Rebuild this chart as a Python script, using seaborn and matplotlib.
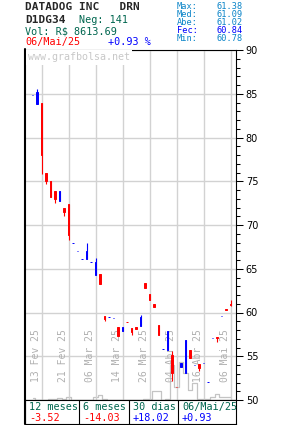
import numpy as np
import seaborn as sns
import matplotlib.pyplot as plt
from matplotlib.ticker import MultipleLocator, FixedLocator
import matplotlib.transforms as mtransforms

# D1DG34 daily candles (45 sessions up to 06/Mai/25)
opens = [84.82, 83.86, 83.94, 75.98, 75.03, 73.89, 72.78, 71.94, 72.40, 67.94,
         67.03, 66.08, 66.08, 65.77, 64.32, 64.40, 59.63, 59.45, 59.37, 58.38,
         57.85, 58.93, 58.19, 58.34, 58.42, 63.41, 62.15, 61.01, 58.52, 55.79,
         55.77, 55.14, 51.54, 53.81, 53.09, 55.71, 54.00, 54.11, 54.23, 52.06,
         57.09, 57.20, 59.60, 60.45, 61.02]
highs = [84.82, 85.54, 83.94, 75.98, 75.03, 73.89, 73.89, 71.94, 72.40, 67.94,
         67.03, 66.08, 67.94, 65.77, 66.19, 64.40, 59.63, 59.45, 59.37, 58.38,
         58.34, 58.93, 58.19, 58.34, 59.75, 63.41, 62.15, 61.01, 58.52, 55.79,
         57.89, 55.60, 51.54, 54.23, 56.86, 55.71, 54.00, 54.11, 54.23, 52.06,
         57.09, 57.20, 59.60, 60.45, 61.38]
lows = [84.82, 83.86, 75.86, 74.65, 73.20, 72.48, 72.78, 71.03, 68.29, 67.94,
        67.03, 66.08, 66.08, 65.77, 64.32, 63.26, 59.06, 59.45, 59.37, 57.35,
        57.85, 58.91, 57.43, 58.15, 58.42, 62.80, 61.47, 60.67, 57.46, 55.79,
        55.77, 52.14, 51.52, 53.81, 53.09, 54.80, 54.00, 53.31, 54.23, 52.06,
        57.09, 56.63, 59.60, 60.28, 60.78]
closes = [84.82, 85.20, 78.03, 75.03, 73.20, 73.00, 73.89, 71.52, 68.86, 67.94,
          67.03, 66.08, 67.03, 65.77, 65.77, 63.26, 59.29, 59.45, 59.37, 57.35,
          58.34, 58.91, 57.81, 58.15, 59.49, 62.80, 61.47, 60.67, 57.46, 55.79,
          57.89, 53.14, 51.52, 54.23, 56.86, 54.80, 54.00, 53.66, 54.23, 52.06,
          57.09, 57.05, 59.60, 60.28, 60.84]
# financial volume, R$ thousands
volumes = [4.4, 0, 0, 1.3, 2.6, 2.6, 5.2, 3.9, 9.1, 1.3,
           1.3, 1.3, 1.3, 1.3, 9.1, 13.8, 2.6, 1.3, 1.3, 1.3,
           1.3, 1.3, 1.3, 1.3, 1.3, 3.9, 3.9, 24.7, 24.7, 1.3,
           3.9, 91.0, 33.8, 98.8, 70.2, 26.0, 44.2, 2.6, 2.6, 2.6,
           7.8, 16.9, 7.8, 8.6, 8.6]

date_pos = [2, 8, 14, 20, 26, 32, 38, 44]
date_labels = ["13 Fev 25", "21 Fev 25", "06 Mar 25", "14 Mar 25",
               "26 Mar 25", "04 Abr 25", "16 Abr 25", "06 Mai 25"]

period_labels = ["12 meses", "6 meses", "30 dias", "06/Mai/25"]
period_values = [-3.52, -14.03, 18.02, 0.93]

UP, DOWN = "#0000ff", "#ff0000"
TEAL, LBLUE = "#00664f", "#0a84c8"
GRID = "#d2d2d2"
MONO = "DejaVu Sans Mono"

sns.set_style("white")
plt.rcParams["font.family"] = ["DejaVu Sans"]

W, H = 285, 425
fig = plt.figure(figsize=(W / 100, H / 100), dpi=100)


def px(x, y):
    return x / W, 1 - y / H


rect = [25 / W, 25 / H, 211 / W, 350 / H]
x = np.arange(len(closes))

# volume in the background
ax_vol = fig.add_axes(rect)
sns.lineplot(x=x, y=volumes, ax=ax_vol, drawstyle="steps-mid",
             color="#c4c4c4", lw=0.9)
ax_vol.set_ylim(0, max(volumes) * 350 / 38)
ax_vol.set_axis_off()

# price axes on top
ax = fig.add_axes(rect, sharex=ax_vol)
ax.patch.set_alpha(0)
ax.set_xlim(-1.67, 45.22)
ax.set_ylim(50, 90)

o, c = np.array(opens), np.array(closes)
colors = [UP if cc >= oo else DOWN for oo, cc in zip(o, c)]
ax.vlines(x, lows, highs, colors=colors, lw=0.8, zorder=3)
ax.bar(x, np.abs(c - o), bottom=np.minimum(o, c), width=0.4,
       color=colors, edgecolor=colors, lw=0.7, zorder=4)

ax.xaxis.set_major_locator(FixedLocator(date_pos))
ax.tick_params(axis="x", length=0, labelbottom=False)
ax.yaxis.tick_right()
ax.yaxis.set_major_locator(MultipleLocator(5))
ax.yaxis.set_minor_locator(MultipleLocator(1))
ax.tick_params(axis="y", which="major", length=5, width=0.75, pad=2,
               labelsize=7, colors="black", direction="out")
ax.tick_params(axis="y", which="minor", length=2.7, width=0.75,
               direction="out", colors="black")
ax.grid(True, which="major", color=GRID, lw=1)
for side in ["top", "right", "bottom"]:
    ax.spines[side].set_color("black")
    ax.spines[side].set_linewidth(0.8)
ax.spines["left"].set_visible(False)

# date labels, vertical, just left of each grid line
trans = mtransforms.blended_transform_factory(ax.transData, ax.transAxes)
for pos, lab in zip(date_pos, date_labels):
    ax.text(pos - 0.15, 18 / 350, lab, rotation=90, ha="right", va="bottom",
            transform=trans, family=MONO, fontsize=7, color="#b0b0b0",
            zorder=2)

# watermark
fig.text(*px(28, 57.5), "www.grafbolsa.net", family=MONO, fontsize=7.2,
         color="#c8c8c8", va="center", ha="left",
         bbox=dict(facecolor="white", edgecolor="none", pad=1.5))

# left frame line down through the table
fig.add_artist(plt.Line2D([25 / W, 25 / W], [1 - 49 / H, 1 - 424 / H],
                          transform=fig.transFigure, color="black", lw=1.5))

# header
fig.text(*px(25, 7), "DATADOG INC   DRN", family=MONO, weight="bold",
         fontsize=8, va="center")
fig.text(*px(25, 20), "D1DG34", family=MONO, weight="bold", fontsize=8,
         va="center")
fig.text(*px(79, 20), "Neg: 141", family=MONO, fontsize=7.3, color=TEAL,
         va="center")
fig.text(*px(25, 31), "Vol: R$ 8613.69", family=MONO, fontsize=7.3,
         color=TEAL, va="center")
fig.text(*px(25, 42), "06/Mai/25", family=MONO, fontsize=7.3, color=DOWN,
         va="center")
fig.text(*px(108, 42), "+0.93 %", family=MONO, fontsize=7.3, color=UP,
         va="center")

stats = [("Max:", "61.38", LBLUE), ("Med:", "61.09", LBLUE),
         ("Abe:", "61.02", LBLUE), ("Fec:", "60.84", UP),
         ("Min:", "60.78", LBLUE)]
for i, (k, v, col) in enumerate(stats):
    yy = 6.5 + 8 * i
    fig.text(*px(177, yy), k, family=MONO, fontsize=6.2, color=col,
             va="center")
    fig.text(*px(243, yy), v, family=MONO, fontsize=6.2, color=col,
             va="center", ha="right")

# performance table under the chart
tab = fig.add_axes([25 / W, 1 / H, 211 / W, 24 / H])
tab.set_xlim(0, 211)
tab.set_ylim(0, 1)
tab.set_xticks([])
tab.set_yticks([])
for s in tab.spines.values():
    s.set_color("black")
    s.set_linewidth(0.8)
cell_left = [0, 54, 104, 153]
for cl in cell_left[1:]:
    tab.axvline(cl, color="black", lw=0.8)
for cl, lab, val in zip(cell_left, period_labels, period_values):
    tab.text(cl + 4, 0.69, lab, family=MONO, fontsize=7.3, color=TEAL,
             va="center", ha="left")
    tab.text(cl + 4, 0.25, f"{val:+.2f}", family=MONO, fontsize=7.3,
             color=UP if val >= 0 else DOWN, va="center", ha="left")

fig.savefig("out.png", dpi=100)
